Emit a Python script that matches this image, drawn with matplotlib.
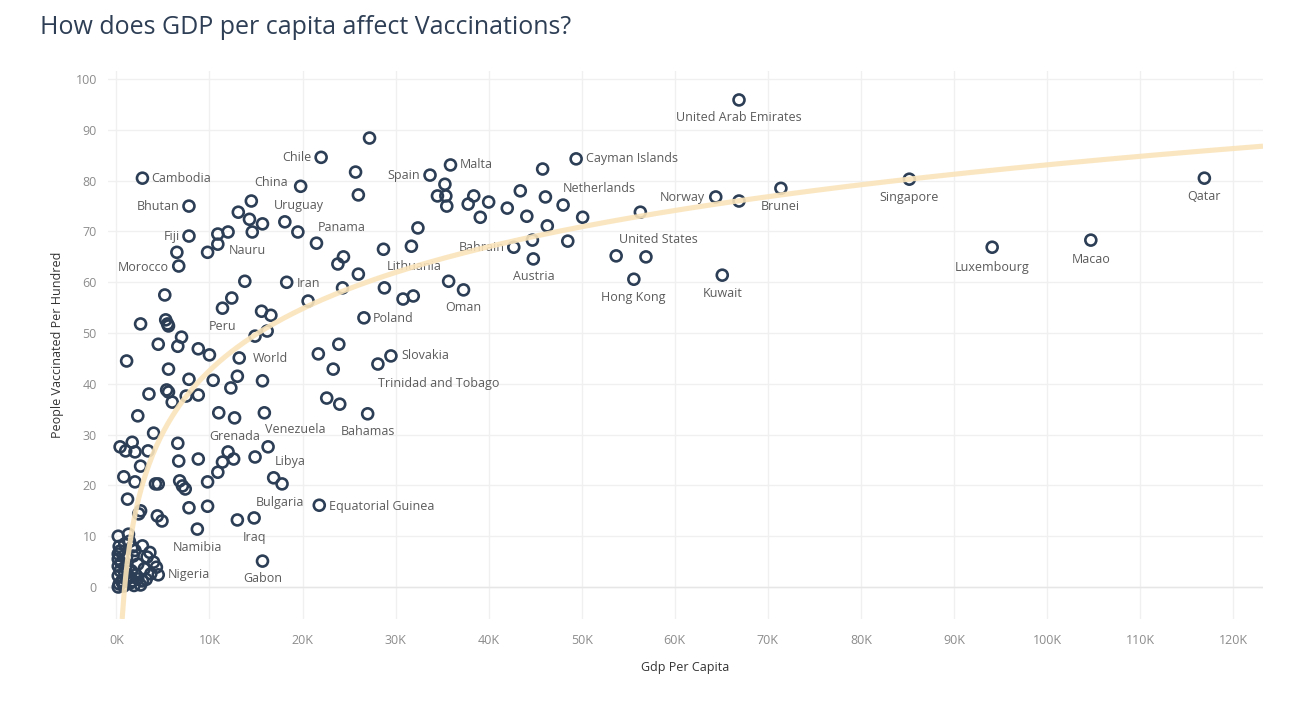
import numpy as np
import matplotlib
matplotlib.use("Agg")
import matplotlib.pyplot as plt
from matplotlib.ticker import FuncFormatter, MultipleLocator

plt.rcParams['font.family'] = ['Open Sans', 'DejaVu Sans']

# Labelled countries: gdp per capita (thousands), people vaccinated per hundred
countries = ["United Arab Emirates", "Cayman Islands", "Malta", "Spain", "Netherlands",
             "Chile", "Cambodia", "China", "Bhutan", "Uruguay", "Panama", "Fiji", "Nauru",
             "Morocco", "Iran", "Lithuania", "Bahrain", "Austria", "Poland", "Oman", "Peru",
             "World", "Slovakia", "Trinidad and Tobago", "Venezuela", "Bahamas", "Grenada",
             "Libya", "Bulgaria", "Equatorial Guinea", "Iraq", "Namibia", "Gabon", "Nigeria",
             "Norway", "Brunei", "United States", "Hong Kong", "Kuwait", "Singapore",
             "Luxembourg", "Macao", "Qatar"]
gdp_lab = [66.9, 49.4, 35.9, 33.7, 48.0,
           22.0, 2.8, 19.8, 7.8, 18.1, 21.5, 7.8, 10.9,
           6.7, 18.3, 31.7, 42.7, 44.8, 26.6, 37.3, 11.4,
           13.2, 29.5, 28.1, 15.9, 27.0, 12.7,
           16.3, 17.8, 21.8, 14.8, 8.7, 15.7, 4.5,
           64.4, 71.4, 56.3, 55.6, 65.1, 85.2,
           94.1, 104.7, 116.9]
vac_lab = [95.9, 84.3, 83.1, 81.1, 75.2,
           84.6, 80.5, 78.9, 75.0, 71.9, 67.7, 69.1, 67.5,
           63.2, 60.0, 67.1, 66.9, 64.6, 53.0, 58.5, 54.9,
           45.1, 45.5, 43.9, 34.3, 34.1, 33.3,
           27.6, 20.3, 16.1, 13.6, 11.4, 5.1, 2.4,
           76.8, 78.5, 73.8, 60.6, 61.4, 80.3,
           66.9, 68.3, 80.5]

# Unlabelled countries
gdp_other = [27.2, 25.7, 26.0, 35.3, 34.5, 35.4, 35.5, 38.4, 37.8, 40.0, 39.1, 42.0, 43.4,
             44.1, 45.8, 46.1, 46.3, 50.1, 48.5, 44.7, 53.7, 56.9, 66.9, 35.7, 32.4, 28.7,
             23.8, 24.4, 26.0, 24.3, 20.6, 28.8, 30.8, 31.9, 23.9, 21.7, 23.3, 22.6, 24.0,
             15.7, 14.5, 13.1, 14.3, 15.7, 14.6, 19.5, 10.9, 12.0, 9.8, 6.5, 13.8, 12.4,
             15.6, 16.6, 5.2, 2.6, 5.3, 5.5, 5.6, 4.5, 6.6, 7.0, 8.8, 10.0, 14.9, 16.2,
             1.1, 5.6, 7.8, 10.4, 13.0, 12.3, 3.5, 5.4, 5.6, 6.0, 7.5, 8.8, 2.3, 11.0,
             4.0, 6.6, 0.4, 1.0, 1.7, 2.0, 3.4, 12.0, 12.6, 14.9, 6.7, 8.8, 11.4, 10.9,
             9.8, 2.6, 0.8, 2.0, 4.2, 4.5, 6.8, 7.1, 7.4, 16.9, 1.2, 2.6, 2.4, 4.4, 4.9,
             7.8, 9.8, 13.0,
             0.2, 1.3, 0.2, 0.4, 1.7, 2.8, 1.8, 3.3, 4.0, 0.2, 1.0, 0.2, 1.2, 1.8, 2.8,
             3.7, 0.2, 0.6, 1.3, 0.3, 2.3, 0.2, 0.9,
             0.6, 0.9, 1.5, 1.6, 2.1, 2.6, 0.5, 1.1, 2.3, 3.0, 0.3, 1.4, 2.0, 3.6, 4.3,
             0.8, 1.9, 3.2, 0.4, 1.5]
vac_other = [88.4, 81.7, 77.2, 79.3, 77.0, 77.0, 75.0, 77.0, 75.4, 75.8, 72.8, 74.6, 78.0,
             73.0, 82.3, 76.8, 71.1, 72.8, 68.1, 68.3, 65.2, 65.0, 76.0, 60.2, 70.7, 66.5,
             63.6, 65.0, 61.6, 58.9, 56.3, 58.9, 56.7, 57.3, 47.8, 45.9, 42.9, 37.2, 36.0,
             40.6, 76.0, 73.8, 72.4, 71.5, 69.9, 69.9, 69.5, 69.9, 65.9, 65.9, 60.2, 56.9,
             54.3, 53.5, 57.5, 51.8, 52.6, 51.8, 51.4, 47.8, 47.4, 49.2, 46.9, 45.7, 49.4, 50.4,
             44.5, 42.9, 40.9, 40.7, 41.5, 39.2, 38.0, 38.8, 38.4, 36.4, 37.6, 37.8, 33.7, 34.3,
             30.3, 28.3, 27.6, 26.8, 28.5, 26.6, 26.8, 26.6, 25.2, 25.6, 24.8, 25.2, 24.6, 22.6,
             20.7, 23.8, 21.7, 20.7, 20.3, 20.3, 20.9, 19.9, 19.3, 21.5, 17.3, 15.0, 14.4, 14.0, 13.0,
             15.6, 15.9, 13.2,
             10.0, 10.4, 6.5, 7.1, 7.9, 8.1, 6.1, 5.9, 4.9, 4.1, 3.9, 2.2, 2.2, 1.2, 1.2,
             2.6, 0.0, 1.0, 1.8, 0.6, 1.6, 5.5, 8.5,
             1.2, 2.8, 0.8, 3.2, 2.4, 0.4, 4.8, 5.8, 4.5, 3.6, 8.0, 9.0, 7.2, 6.8, 3.9,
             0.2, 0.3, 1.5, 3.2, 1.9]

# logarithmic trend: y = a + b * ln(gdp)
trend_a = -119.5
trend_b = 17.6

# label placement (dx px, dy px, alignment)
label_pos = {
    "United Arab Emirates": (0, -18, "center"), "Cayman Islands": (10, 0, "left"),
    "Malta": (9, 0, "left"), "Spain": (-10, 0, "right"), "Netherlands": (0, 17, "left"),
    "Chile": (-10, 0, "right"), "Cambodia": (9, 0, "left"), "China": (-13, 4, "right"),
    "Bhutan": (-9, 0, "right"), "Uruguay": (14, 16, "center"), "Panama": (25, 16, "center"),
    "Fiji": (-9, 0, "right"), "Nauru": (11, -6, "left"), "Morocco": (-10, -1, "right"),
    "Iran": (10, -1, "left"), "Lithuania": (3, -20, "center"), "Bahrain": (-9, 0, "right"),
    "Austria": (0, -18, "center"), "Poland": (9, -1, "left"), "Oman": (0, -18, "center"),
    "Peru": (0, -18, "center"), "World": (14, -1, "left"), "Slovakia": (10, 0, "left"),
    "Trinidad and Tobago": (0, -19, "left"), "Venezuela": (1, -17, "left"),
    "Bahamas": (0, -18, "center"), "Grenada": (0, -19, "center"), "Libya": (7, -15, "left"),
    "Bulgaria": (-2, -19, "center"), "Equatorial Guinea": (10, -1, "left"),
    "Iraq": (0, -20, "center"), "Namibia": (0, -18, "center"), "Gabon": (0, -17, "center"),
    "Nigeria": (9, 0, "left"), "Norway": (-11, -1, "right"), "Brunei": (-1, -18, "center"),
    "United States": (18, -27, "center"), "Hong Kong": (-1, -18, "center"),
    "Kuwait": (0, -18, "center"), "Singapore": (0, -18, "center"),
    "Luxembourg": (0, -20, "center"), "Macao": (0, -19, "center"), "Qatar": (0, -18, "center"),
}

fig = plt.figure(figsize=(12.98, 7.15), dpi=100)
ax = fig.add_axes([108 / 1298, 1 - 619 / 715, 1155 / 1298, 548 / 715])

gdp_all = np.array(gdp_lab + gdp_other)
vac_all = np.array(vac_lab + vac_other)
ax.scatter(gdp_all, vac_all, s=62, facecolors="none", edgecolors="#2c3e55",
           linewidths=1.9, zorder=3)

for name, gx, vy in zip(countries, gdp_lab, vac_lab):
    dx, dy, ha = label_pos[name]
    ax.annotate(name, (gx, vy), xytext=(dx * 0.72, dy * 0.72), textcoords="offset points",
                ha=ha, va="center", fontsize=9, color="#5b5b5b", zorder=4)

xmin, xmax = -0.9, 123.2
ymin, ymax = -6.3, 101.6
xs = np.linspace(np.exp((ymin - trend_a) / trend_b) / 1000, xmax, 600)
ax.plot(xs, trend_a + trend_b * np.log(xs * 1000), color="#fae4bb", lw=3.7,
        alpha=0.9, zorder=5, solid_capstyle="butt")

ax.set_xlim(xmin, xmax)
ax.set_ylim(ymin, ymax)
ax.xaxis.set_major_locator(MultipleLocator(10))
ax.yaxis.set_major_locator(MultipleLocator(10))
ax.xaxis.set_major_formatter(FuncFormatter(lambda v, p: f"{v:.0f}K"))
ax.grid(True, color="#f0f0f0", lw=1)
ax.axhline(0, color="#e6e6e6", lw=1, zorder=1)
ax.set_axisbelow(True)
for sp in ax.spines.values():
    sp.set_visible(False)
ax.tick_params(length=0, labelsize=9, colors="#8c8c8c", pad=8)
ax.tick_params(axis="x", pad=11)

ax.set_xlabel("Gdp Per Capita", fontsize=9, color="#333333")
ax.set_ylabel("People Vaccinated Per Hundred", fontsize=9, color="#333333")
ax.xaxis.set_label_coords(0.4996, -0.077)
ax.yaxis.set_label_coords(-0.038, 0.5)

fig.text(40 / 1298, 1 - 27 / 715, "How does GDP per capita affect Vaccinations?",
         fontsize=18, color="#2e3f55", va="center", ha="left")

fig.savefig("out.png", dpi=100, facecolor="white")
